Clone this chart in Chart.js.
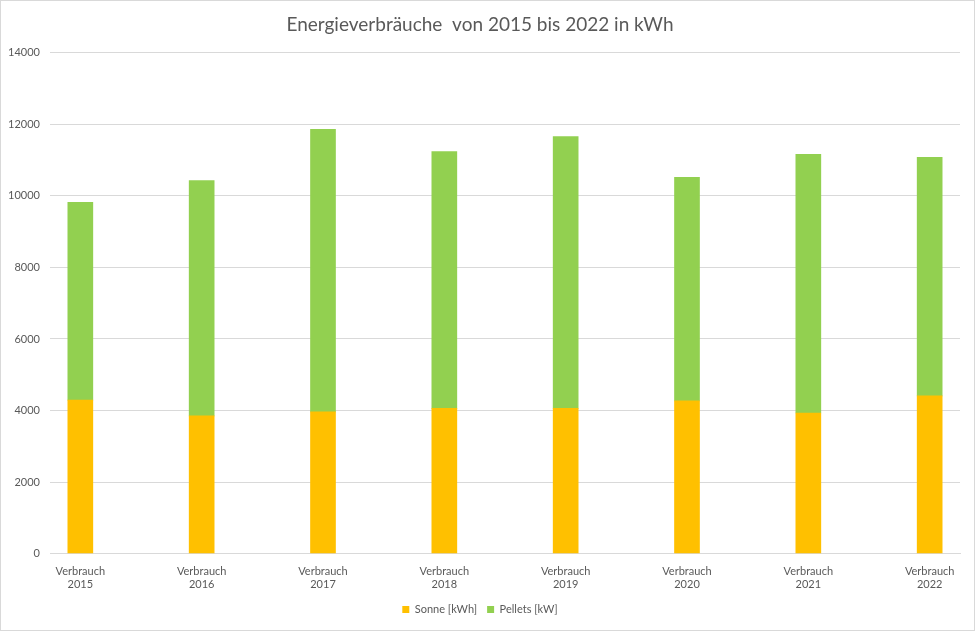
<!DOCTYPE html>
<html>
<head>
<meta charset="utf-8">
<script src="https://cdn.jsdelivr.net/npm/chart.js@4"></script>
<style>
  html, body { margin: 0; padding: 0; background: #fff; }
  #wrap { position: relative; width: 975px; height: 631px; }
  #frame { position: absolute; left: 0; top: 0; width: 973px; height: 629px; border: 1px solid #D9D9D9; pointer-events: none; }
</style>
</head>
<body>
<div id="wrap">
  <canvas id="chart" width="975" height="631"></canvas>
  <div id="frame"></div>
</div>
<script>
const categories = ['Verbrauch 2015', 'Verbrauch 2016', 'Verbrauch 2017', 'Verbrauch 2018',
  'Verbrauch 2019', 'Verbrauch 2020', 'Verbrauch 2021', 'Verbrauch 2022'];
const sonne = [4290, 3850, 3960, 4060, 4060, 4270, 3930, 4410];
const pellets = [5530, 6580, 7900, 7180, 7600, 6250, 7230, 6670];
const yTicks = [0, 2000, 4000, 6000, 8000, 10000, 12000, 14000];

const FONT = 'Lato, "Open Sans", sans-serif';
const INK = '#595959';
const GRID = '#D9D9D9';

Chart.defaults.font.family = FONT;
Chart.defaults.color = INK;

const toPoints = arr => arr.map((v, i) => ({ x: i, y: v }));

new Chart(document.getElementById('chart'), {
  type: 'bar',
  data: {
    datasets: [
      { label: 'Sonne [kWh]', data: toPoints(sonne), backgroundColor: '#FFC000', barThickness: 25 },
      { label: 'Pellets [kW]', data: toPoints(pellets), backgroundColor: '#92D050', barThickness: 25 },
    ],
  },
  options: {
    responsive: false,
    animation: false,
    layout: { padding: { left: 0, right: 15, top: 0, bottom: 6 } },
    plugins: {
      title: {
        display: true,
        text: 'Energieverbräuche  von 2015 bis 2022 in kWh',
        color: INK,
        font: { size: 19, weight: 'normal' },
        padding: { top: 13, bottom: 17 },
      },
      legend: {
        position: 'bottom',
        labels: { boxWidth: 7, boxHeight: 7, font: { size: 11 }, color: INK, padding: 10 },
      },
      tooltip: { enabled: false },
    },
    scales: {
      x: {
        type: 'linear',
        stacked: true,
        offset: false,
        min: -0.25,
        max: 7.25,
        afterBuildTicks: s => { s.ticks = categories.map((_, i) => ({ value: i })); },
        ticks: {
          autoSkip: false,
          maxRotation: 0,
          font: { size: 11 },
          color: INK,
          callback: v => categories[v] ? categories[v].split(' ') : '',
        },
        grid: { display: false },
        border: { color: GRID },
      },
      y: {
        stacked: true,
        min: 0,
        max: 14000,
        afterBuildTicks: s => { s.ticks = yTicks.map(v => ({ value: v })); },
        afterFit: s => { s.width = 50; },
        ticks: { font: { size: 11 }, color: INK, padding: 10, callback: v => String(v) },
        grid: { color: GRID, drawTicks: false },
        border: { display: false },
      },
    },
  },
});
</script>
</body>
</html>
